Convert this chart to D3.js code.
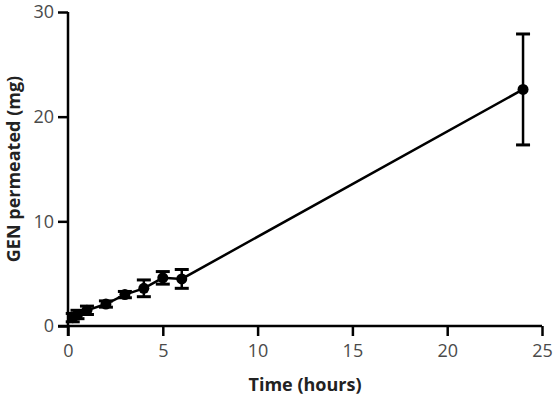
<!DOCTYPE html>
<html>
<head>
<meta charset="utf-8">
<script src="https://cdn.jsdelivr.net/npm/d3@7"></script>
<style>
  body { margin: 0; background: #fff; }
  svg text { font-family: "Open Sans", "Liberation Sans", sans-serif; }
</style>
</head>
<body>
<div id="chart"></div>
<script>
// time points (hours) and mean GEN permeated (mg) with error
var times = [0.25, 0.5, 1, 2, 3, 4, 5, 6, 24];
var means = [0.8, 1.1, 1.5, 2.1, 3.0, 3.6, 4.6, 4.5, 22.6];
var errors = [0.4, 0.4, 0.4, 0.3, 0.3, 0.8, 0.6, 0.9, 5.3];
var xTicks = [0, 5, 10, 15, 20, 25];
var yTicks = [0, 10, 20, 30];

var W = 555, H = 399;
var margin = {top: 12, right: 13, bottom: 73, left: 68};
var width = W - margin.left - margin.right,
    height = H - margin.top - margin.bottom;

var svg = d3.select('#chart').append('svg')
    .attr('width', W)
    .attr('height', H)
  .append('g')
    .attr('transform', 'translate(' + margin.left + ',' + margin.top + ')');

var x = d3.scaleLinear().domain([0, 25]).range([0, width]);
var y = d3.scaleLinear().domain([0, 30]).range([height, 0]);

var data = times.map(function(t, i) {
    return {t: t, m: means[i], e: errors[i]};
});

// axes
var xAxis = svg.append('g')
    .attr('transform', 'translate(0,' + height + ')')
    .call(d3.axisBottom(x).tickValues(xTicks).tickSize(10).tickPadding(8));
var yAxis = svg.append('g')
    .call(d3.axisLeft(y).tickValues(yTicks).tickSize(10).tickPadding(4));

[xAxis, yAxis].forEach(function(a) {
    a.select('.domain').attr('stroke', '#000').attr('stroke-width', 2.5);
    a.selectAll('.tick line').attr('stroke', '#000').attr('stroke-width', 2.5);
    a.selectAll('.tick text').attr('fill', '#4a4a4a').style('font-size', '18px');
});
// axis lines cross a little past the origin
xAxis.select('.domain').attr('d', 'M' + (-10) + ',0H' + width);
yAxis.select('.domain').attr('d', 'M0,' + (height + 10) + 'V0');

// axis titles
svg.append('text')
    .attr('x', width / 2)
    .attr('y', height + 65)
    .attr('text-anchor', 'middle')
    .attr('fill', '#222')
    .style('font-size', '18px')
    .style('font-weight', 'bold')
    .text('Time (hours)');

svg.append('text')
    .attr('transform', 'translate(' + (-48) + ',' + (height / 2) + ') rotate(-90)')
    .attr('text-anchor', 'middle')
    .attr('fill', '#222')
    .style('font-size', '18px')
    .style('font-weight', 'bold')
    .text('GEN permeated (mg)');

// connecting line
var line = d3.line()
    .x(function(d) { return x(d.t); })
    .y(function(d) { return y(d.m); });

svg.append('path')
    .datum(data)
    .attr('d', line)
    .attr('fill', 'none')
    .attr('stroke', '#000')
    .attr('stroke-width', 2.5);

// error bars
var capW = 7;
var err = svg.selectAll('.err')
    .data(data)
    .enter().append('g')
    .attr('class', 'err');

err.append('line')
    .attr('x1', function(d) { return x(d.t); })
    .attr('x2', function(d) { return x(d.t); })
    .attr('y1', function(d) { return y(d.m + d.e); })
    .attr('y2', function(d) { return y(d.m - d.e); })
    .attr('stroke', '#000')
    .attr('stroke-width', 2.5);

err.selectAll('.cap')
    .data(function(d) { return [d.m + d.e, d.m - d.e].map(function(v) { return {t: d.t, v: v}; }); })
    .enter().append('line')
    .attr('x1', function(d) { return x(d.t) - capW; })
    .attr('x2', function(d) { return x(d.t) + capW; })
    .attr('y1', function(d) { return y(d.v); })
    .attr('y2', function(d) { return y(d.v); })
    .attr('stroke', '#000')
    .attr('stroke-width', 3);

// markers
svg.selectAll('circle')
    .data(data)
    .enter().append('circle')
    .attr('cx', function(d) { return x(d.t); })
    .attr('cy', function(d) { return y(d.m); })
    .attr('r', 5.5)
    .attr('fill', '#000');
</script>
</body>
</html>
